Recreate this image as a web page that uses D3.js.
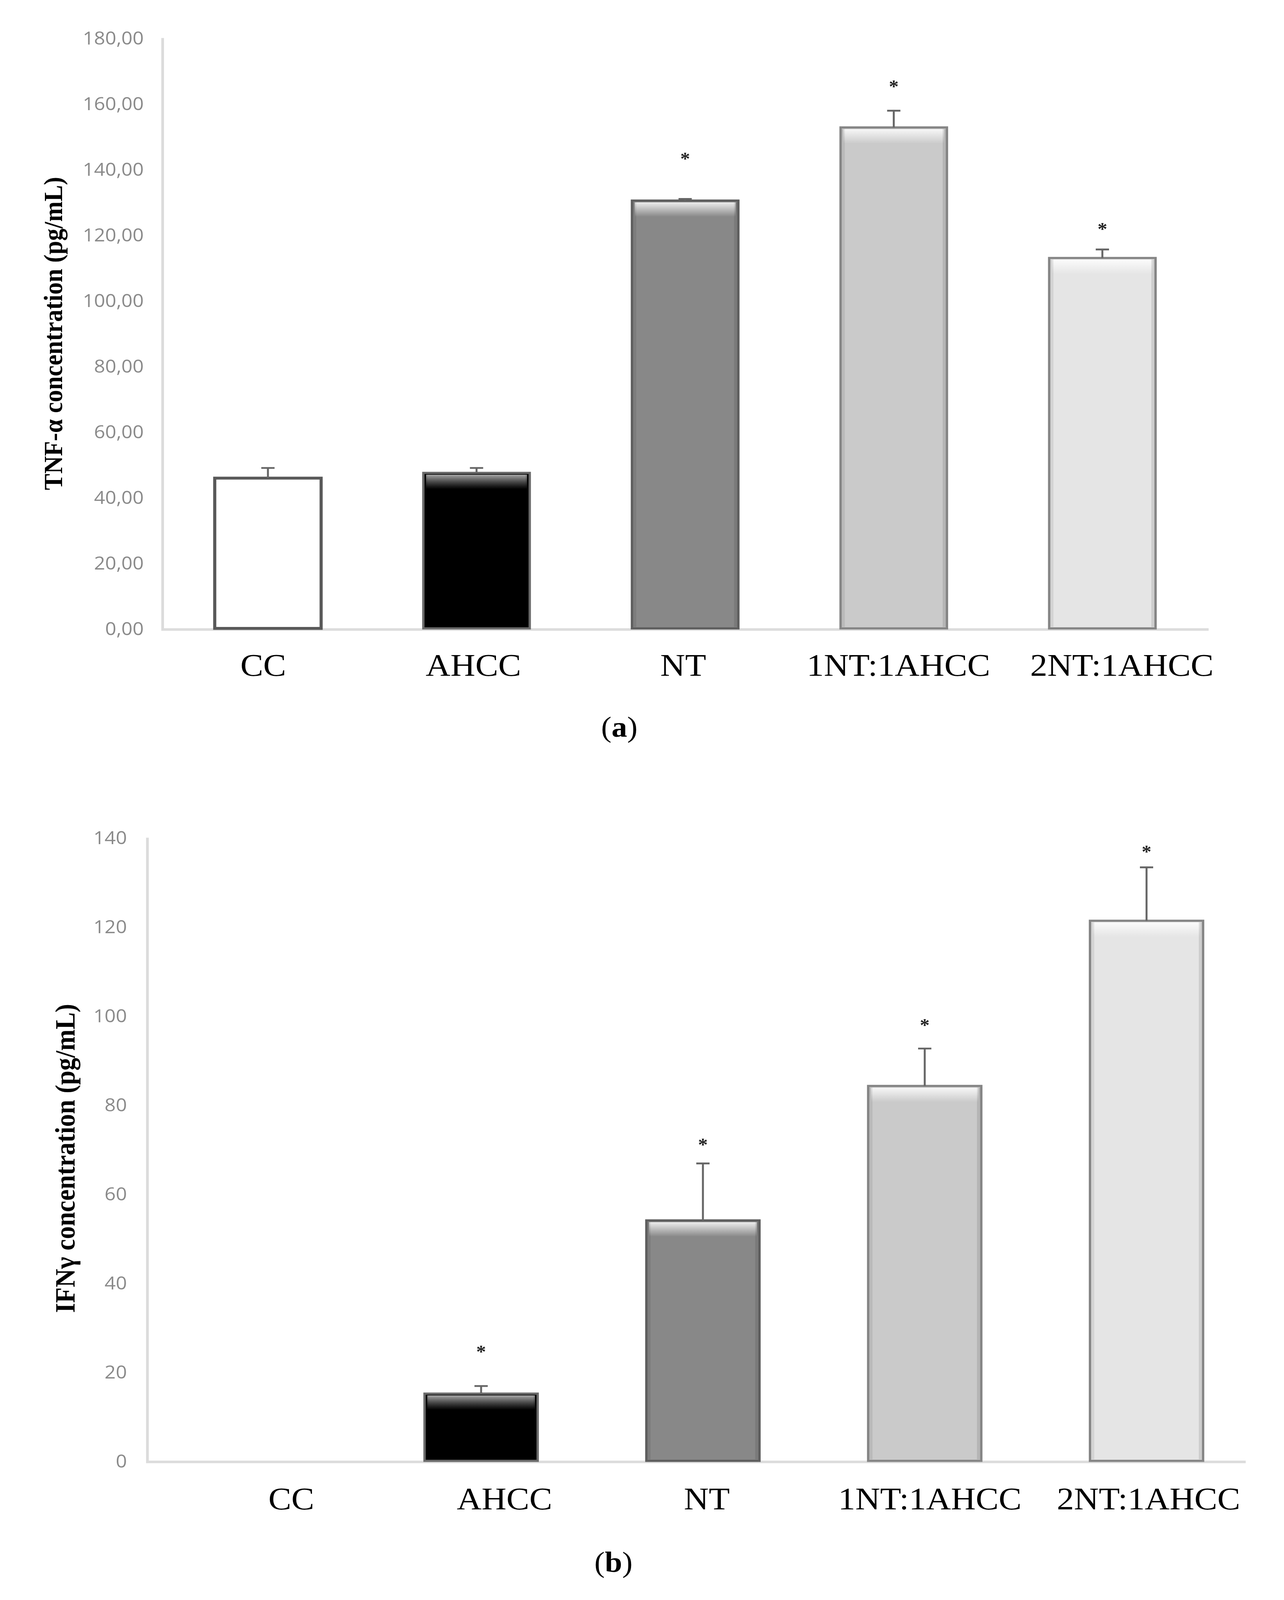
<!DOCTYPE html>
<html><head><meta charset="utf-8">
<script src="https://cdn.jsdelivr.net/npm/d3@7"></script>
<style>html,body{margin:0;padding:0;background:#fff;overflow:hidden}svg{display:block}</style>
</head><body>
<svg id="chart" xmlns="http://www.w3.org/2000/svg"></svg>
<script>
// ---------- data ----------
const categories = ["CC", "AHCC", "NT", "1NT:1AHCC", "2NT:1AHCC"];

const tnfValues = [45.8, 47.4, 130.4, 152.7, 112.9];
const tnfErrors = [3.1, 1.5, 0.5, 5.1, 2.6];
const tnfStars  = [null, null, 143.9, 165.9, 122.5];
const tnfTicks  = [0, 20, 40, 60, 80, 100, 120, 140, 160, 180];

const ifnValues = [0, 15.1, 54.0, 84.2, 121.3];
const ifnErrors = [0, 1.7, 12.8, 8.4, 12.0];
const ifnStars  = [null, 25.1, 71.6, 98.4, 137.4];
const ifnTicks  = [0, 20, 40, 60, 80, 100, 120, 140];

const barFills   = ["#ffffff", "#000000", "#888888", "#cacaca", "#e5e5e5"];
const barStrokes = ["#595959", "#6a6a6a", "#5e5e5e", "#858585", "#858585"];
const bevel      = [false, true, true, true, true];

// ---------- drawing ----------
const W = 3288, H = 4438;
const vw = window.innerWidth || W, vh = window.innerHeight || H;
const svg = d3.select("#chart")
  .attr("width", vw).attr("height", vh)
  .attr("viewBox", `0 0 ${W} ${H}`)
  .attr("preserveAspectRatio", "none");
svg.append("rect").attr("width", W).attr("height", H).attr("fill", "#fff");

const defs = svg.append("defs");
const hl = defs.append("linearGradient").attr("id", "hl").attr("x1", 0).attr("y1", 0).attr("x2", 0).attr("y2", 1);
hl.append("stop").attr("offset", "0").attr("stop-color", "#fff").attr("stop-opacity", 0.85);
hl.append("stop").attr("offset", "0.35").attr("stop-color", "#fff").attr("stop-opacity", 0.55);
hl.append("stop").attr("offset", "1").attr("stop-color", "#fff").attr("stop-opacity", 0);
const hlDark = defs.append("linearGradient").attr("id", "hlDark").attr("x1", 0).attr("y1", 0).attr("x2", 0).attr("y2", 1);
hlDark.append("stop").attr("offset", "0").attr("stop-color", "#bbb").attr("stop-opacity", 0.9);
hlDark.append("stop").attr("offset", "1").attr("stop-color", "#888").attr("stop-opacity", 0);

function panel(cfg) {
  const x = d3.scaleBand().domain(categories).range(cfg.xRange).padding(0);
  const y = d3.scaleLinear().domain(cfg.yDomain).range(cfg.yRange);
  const g = svg.append("g");
  const barW = x.bandwidth() * 0.51;
  const cx = c => x(c) + x.bandwidth() / 2;

  // y axis
  const yAxis = d3.axisLeft(y).tickValues(cfg.ticks).tickSize(0).tickSizeOuter(0)
    .tickPadding(cfg.tickPad).tickFormat(cfg.fmt);
  const ya = g.append("g").attr("transform", `translate(${cfg.xRange[0] - 3},0)`).call(yAxis);
  ya.select(".domain").attr("stroke", "#dcdcdc").attr("stroke-width", 7);
  ya.selectAll("text").attr("fill", "#8a8a8a").attr("font-family", "'Open Sans', 'Noto Sans', sans-serif")
    .attr("font-size", 50).attr("dy", "0.36em");

  // x axis
  const xAxis = d3.axisBottom(x).tickSize(0).tickSizeOuter(0);
  const xa = g.append("g").attr("transform", `translate(0,${cfg.yRange[0] + 3})`).call(xAxis);
  xa.select(".domain").attr("stroke", "#dcdcdc").attr("stroke-width", 7)
    .attr("d", `M${cfg.xRange[0] - 6},0H${cfg.xAxisEnd}`);
  xa.selectAll(".tick text").attr("fill", "#000")
    .attr("font-family", "'Liberation Serif', 'DejaVu Serif', serif")
    .attr("font-size", 88).attr("dy", null).attr("y", cfg.labelBase)
    .attr("x", (d, i) => cfg.labelShift[i]);

  // bars
  const data = categories.map((c, i) => ({c, i, v: cfg.values[i], e: cfg.errors[i], s: cfg.stars[i]}));
  const bars = g.append("g").selectAll("g").data(data.filter(d => d.v > 0)).join("g");
  bars.append("rect")
    .attr("x", d => cx(d.c) - barW / 2)
    .attr("y", d => y(d.v))
    .attr("width", barW)
    .attr("height", d => y(0) - y(d.v))
    .attr("fill", d => barFills[d.i])
    .attr("stroke", d => barStrokes[d.i])
    .attr("stroke-width", d => bevel[d.i] ? 6 : 8);
  // bevel highlights
  const bv = bars.filter(d => bevel[d.i]);
  bv.append("rect")
    .attr("x", d => cx(d.c) - barW / 2 + 7)
    .attr("y", d => y(d.v) + 5)
    .attr("width", barW - 14)
    .attr("height", d => Math.min(40, (y(0) - y(d.v)) * 0.3))
    .attr("fill", d => d.i === 1 ? "url(#hlDark)" : "url(#hl)");
  bv.append("rect")
    .attr("x", d => cx(d.c) - barW / 2 + 3)
    .attr("y", d => y(d.v) + 4)
    .attr("width", 8)
    .attr("height", d => y(0) - y(d.v) - 8)
    .attr("fill", "#000").attr("opacity", 0.08);
  bv.append("rect")
    .attr("x", d => cx(d.c) + barW / 2 - 11)
    .attr("y", d => y(d.v) + 4)
    .attr("width", 8)
    .attr("height", d => y(0) - y(d.v) - 8)
    .attr("fill", "#000").attr("opacity", 0.1);

  // error bars
  g.append("g").attr("stroke", "#666").attr("stroke-width", 5).attr("fill", "none")
    .selectAll("path").data(data.filter(d => d.e > 0)).join("path")
    .attr("d", d => `M${cx(d.c)},${y(d.v)}V${y(d.v + d.e)}M${cx(d.c) - 17},${y(d.v + d.e)}H${cx(d.c) + 17}`);

  // significance stars
  g.append("g").selectAll("text").data(data.filter(d => d.s != null)).join("text")
    .attr("x", d => cx(d.c))
    .attr("y", d => y(d.s) + 24)
    .attr("text-anchor", "middle")
    .attr("font-family", "'Liberation Serif', serif").attr("font-weight", "bold")
    .attr("font-size", 50).attr("fill", "#222").text("*");

  // y label
  g.append("text")
    .attr("transform", `translate(${cfg.yLabelPos[0]},${cfg.yLabelPos[1]}) rotate(-90)`)
    .attr("text-anchor", "middle").attr("dominant-baseline", "central")
    .attr("font-family", "'Liberation Serif', serif").attr("font-weight", "bold")
    .attr("font-size", cfg.yLabelSize).attr("fill", "#000").text(cfg.yLabel);

  // panel letter
  const pl = g.append("text").attr("x", cfg.panelPos[0]).attr("y", cfg.panelPos[1])
    .attr("text-anchor", "middle").attr("font-family", "'Liberation Serif', serif")
    .attr("font-size", 80).attr("fill", "#000");
  pl.append("tspan").text("(");
  pl.append("tspan").attr("font-weight", "bold").text(cfg.panel);
  pl.append("tspan").text(")");
}

panel({
  xRange: [419, 3090], xAxisEnd: 3095, yDomain: [0, 180], yRange: [1743, 105],
  ticks: tnfTicks, fmt: d => d.toFixed(2).replace(".", ","), tickPad: 48,
  values: tnfValues, errors: tnfErrors, stars: tnfStars,
  labelBase: 128, labelShift: [-12, -8, -5, 12, 50],
  yLabel: "TNF-α concentration (pg/mL)", yLabelPos: [136, 925], yLabelSize: 68,
  panel: "a", panelPos: [1586, 2043]
});

panel({
  xRange: [380, 3220], xAxisEnd: 3190, yDomain: [0, 140], yRange: [4052, 2323],
  ticks: ifnTicks, fmt: d3.format("d"), tickPad: 52,
  values: ifnValues, errors: ifnErrors, stars: ifnStars,
  labelBase: 132, labelShift: [82, 60, 10, 13, 5],
  yLabel: "IFNγ concentration (pg/mL)", yLabelPos: [167, 3213], yLabelSize: 71,
  panel: "b", panelPos: [1571, 4360]
});
</script>
</body></html>
